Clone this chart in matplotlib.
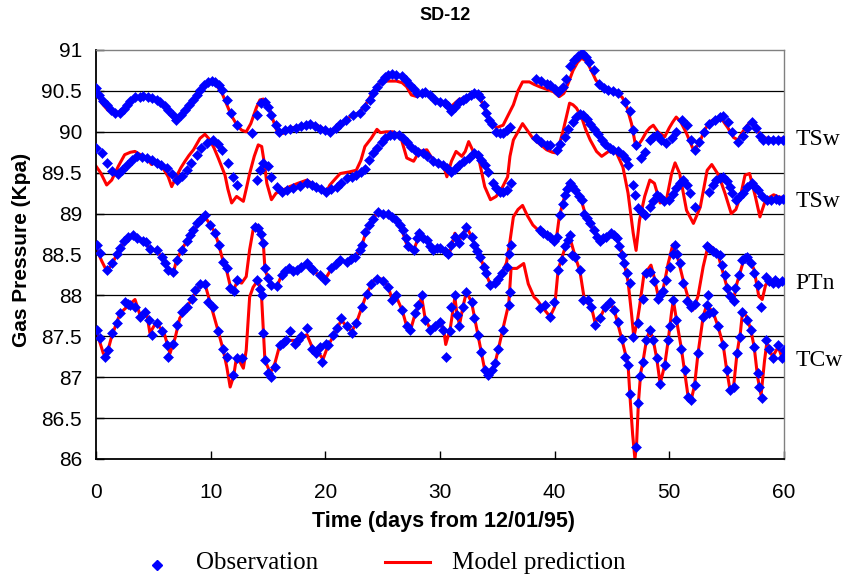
import matplotlib
matplotlib.use("Agg")
import matplotlib.pyplot as plt
from matplotlib.lines import Line2D

# ── Data (days, kPa) ──────────────────────────────────────────────────────────
# TSw (upper)
obs1_day = [0.0, 0.3, 0.6, 0.93, 1.3, 1.66, 2.1, 2.4, 2.67, 3.0, 3.4, 3.8, 4.1, 4.5, 4.9, 5.3, 5.6,
            6.0, 6.3, 6.7, 7.0, 7.4, 7.76, 8.1, 8.5, 8.8, 9.07, 9.4, 9.8, 10.1, 10.4, 10.7, 11.0,
            11.4, 11.8, 12.3, 13.6, 14.0, 14.4, 14.7, 15.0, 15.3, 15.7, 16.0, 16.5, 16.9, 17.4,
            17.9, 18.3, 18.7, 19.1, 19.5, 20.0, 20.4, 20.9, 21.3, 21.8, 22.4, 23.0, 23.5, 23.9,
            24.2, 24.5, 24.9, 25.2, 25.5, 25.8, 26.2, 26.65, 27.0, 27.4, 27.7, 28.0, 28.4, 28.7,
            29.1, 29.6, 30.0, 30.4, 30.7, 31.0, 31.3, 31.7, 32.0, 32.3, 32.7, 33.0, 33.3, 33.5,
            33.8, 34.0, 34.3, 34.5, 34.9, 35.2, 35.5, 35.8, 36.1, 38.4, 38.8, 39.3, 39.6, 40.0,
            40.3, 40.7, 41.0, 41.3, 41.7, 42.0, 42.35, 42.7, 43.0, 43.4, 43.9, 44.3, 44.67, 45.1,
            45.5, 46.1, 46.55, 46.85, 47.1, 47.57, 47.9, 48.3, 48.6, 48.9, 49.3, 49.75, 50.2,
            50.6, 51.1, 51.5, 51.9, 52.2, 52.6, 53.0, 53.5, 54.0, 54.4, 54.7, 55.1, 55.5, 56.0,
            56.4, 56.8, 57.2, 57.6, 57.9, 58.2, 58.6, 59.0, 59.5, 59.9]
obs1_val = [90.53, 90.45, 90.38, 90.33, 90.27, 90.23, 90.23, 90.28, 90.33, 90.38, 90.42, 90.43,
            90.44, 90.43, 90.41, 90.39, 90.37, 90.32, 90.27, 90.2, 90.15, 90.2, 90.27, 90.33,
            90.39, 90.45, 90.51, 90.57, 90.61, 90.62, 90.61, 90.57, 90.51, 90.39, 90.23, 90.08,
            89.98, 90.2, 90.35, 90.37, 90.3, 90.2, 90.08, 90.0, 90.02, 90.04, 90.05, 90.07,
            90.08, 90.1, 90.07, 90.04, 90.02, 90.0, 90.05, 90.1, 90.15, 90.2, 90.23, 90.3,
            90.39, 90.47, 90.55, 90.62, 90.67, 90.7, 90.71, 90.7, 90.68, 90.63, 90.57, 90.52,
            90.47, 90.48, 90.49, 90.45, 90.39, 90.37, 90.35, 90.31, 90.26, 90.3, 90.37, 90.39,
            90.41, 90.45, 90.47, 90.46, 90.43, 90.33, 90.23, 90.15, 90.1, 90.0, 89.98, 89.99,
            90.02, 90.06, 90.65, 90.62, 90.59, 90.57, 90.52, 90.49, 90.55, 90.65, 90.8, 90.88,
            90.93, 90.96, 90.92, 90.85, 90.76, 90.59, 90.53, 90.51, 90.5, 90.47, 90.37, 90.25,
            90.02, 89.84, 89.68, 89.75, 89.9, 89.94, 89.96, 89.9, 89.86, 89.92, 90.0, 90.15,
            90.08, 89.9, 89.78, 89.88, 90.0, 90.1, 90.15, 90.18, 90.19, 90.12, 90.0, 89.88,
            89.95, 90.05, 90.12, 90.05, 89.95, 89.9, 89.9, 89.9, 89.9, 89.9]
pred1_day = [0.0, 0.5, 1.0, 1.5, 2.0, 2.5, 3.0, 3.5, 4.0, 4.5, 5.0, 5.5, 6.0, 6.5, 6.9, 7.5, 8.0,
             8.5, 9.0, 9.5, 10.0, 10.5, 11.0, 11.5, 11.8, 12.3, 12.7, 13.1, 13.5, 13.7, 14.0,
             14.3, 14.6, 14.9, 15.2, 15.5, 15.75, 16.3, 16.8, 17.5, 18.0, 18.7, 19.3, 19.8,
             20.3, 20.8, 21.3, 21.8, 22.4, 23.0, 23.5, 24.0, 24.5, 25.0, 25.5, 26.2, 26.7, 27.1,
             27.5, 28.0, 28.5, 28.9, 29.4, 30.0, 30.5, 30.9, 31.3, 31.7, 32.3, 32.8, 33.2, 33.6,
             34.0, 34.5, 34.9, 35.5, 36.0, 36.4, 36.8, 37.2, 37.8, 38.2, 38.7, 39.3, 39.9, 40.4,
             40.8, 41.2, 41.6, 42.0, 42.35, 42.8, 43.2, 43.6, 44.2, 44.8, 45.4, 45.9, 46.3,
             46.7, 47.1, 47.6, 48.0, 48.3, 48.6, 49.0, 49.6, 50.0, 50.3, 50.6, 51.0, 51.5, 52.1,
             52.6, 53.0, 53.5, 54.0, 54.6, 55.1, 55.6, 56.0, 56.4, 56.8, 57.1, 57.6, 58.1, 58.6,
             59.2, 59.6, 60.0]
pred1_val = [90.5, 90.35, 90.27, 90.23, 90.24, 90.3, 90.38, 90.42, 90.43, 90.43, 90.4, 90.37,
             90.3, 90.2, 90.15, 90.22, 90.32, 90.4, 90.5, 90.58, 90.6, 90.57, 90.47, 90.3, 90.2,
             90.08, 90.02, 90.0, 90.1, 90.18, 90.3, 90.39, 90.4, 90.35, 90.25, 90.12, 90.02,
             89.98, 90.04, 90.06, 90.07, 90.1, 90.08, 90.04, 90.0, 90.04, 90.1, 90.15, 90.2,
             90.24, 90.33, 90.45, 90.56, 90.62, 90.62, 90.62, 90.6, 90.55, 90.45, 90.43, 90.47,
             90.48, 90.42, 90.37, 90.32, 90.3, 90.35, 90.4, 90.41, 90.45, 90.45, 90.38, 90.24,
             90.1, 90.05, 90.08, 90.22, 90.33, 90.5, 90.61, 90.61, 90.58, 90.55, 90.52, 90.49,
             90.43, 90.47, 90.6, 90.75, 90.85, 90.9, 90.86, 90.75, 90.63, 90.55, 90.51, 90.48,
             90.42, 90.3, 90.1, 89.8, 89.9, 90.0, 90.05, 90.08, 90.0, 89.94, 90.05, 90.12, 90.18,
             90.12, 89.98, 89.78, 89.85, 90.0, 90.12, 90.16, 90.15, 90.05, 89.93, 89.9, 90.0,
             90.08, 90.12, 90.03, 89.93, 89.92, 89.9, 89.92, 89.92]

# TSw (lower)
obs2_day = [0.0, 0.5, 0.93, 1.37, 1.95, 2.3, 2.67, 3.1, 3.55, 4.0, 4.42, 4.9, 5.3, 5.7, 6.16, 6.6,
            7.03, 7.5, 7.9, 8.3, 8.78, 9.2, 9.65, 10.2, 10.6, 10.95, 11.5, 11.97, 12.26, 14.0,
            14.3, 14.6, 15.0, 15.3, 15.75, 16.2, 16.7, 17.2, 17.8, 18.4, 18.8, 19.2, 19.6, 20.1,
            20.5, 20.98, 21.4, 21.85, 22.3, 22.7, 23.1, 23.45, 23.8, 24.2, 24.5, 24.9, 25.2,
            25.6, 26.0, 26.4, 26.8, 27.1, 27.5, 27.8, 28.1, 28.5, 28.9, 29.4, 29.8, 30.3, 30.6,
            31.0, 31.3, 31.7, 32.1, 32.5, 33.0, 33.3, 33.6, 33.9, 34.2, 34.6, 34.9, 35.2, 35.5,
            35.8, 36.2, 38.4, 38.8, 39.3, 39.6, 40.2, 40.5, 40.9, 41.2, 41.6, 41.9, 42.2, 42.5,
            42.8, 43.1, 43.4, 43.8, 44.1, 44.4, 44.8, 45.1, 45.5, 46.0, 46.2, 46.4, 46.85, 47.0,
            47.3, 47.6, 47.9, 48.3, 48.6, 48.9, 49.2, 49.5, 50.0, 50.3, 50.6, 50.9, 51.2, 51.5,
            51.8, 52.2, 53.5, 53.8, 54.1, 54.4, 54.7, 55.0, 55.25, 55.5, 55.8, 56.1, 56.4, 56.8,
            57.2, 57.5, 57.75, 58.1, 58.5, 58.9, 59.3, 59.6, 59.9]
obs2_val = [89.8, 89.74, 89.62, 89.52, 89.49, 89.53, 89.6, 89.66, 89.7, 89.69, 89.68, 89.65,
            89.62, 89.6, 89.56, 89.48, 89.41, 89.46, 89.53, 89.62, 89.72, 89.8, 89.86, 89.9,
            89.85, 89.78, 89.62, 89.45, 89.35, 89.41, 89.53, 89.62, 89.58, 89.45, 89.33, 89.27,
            89.29, 89.31, 89.34, 89.37, 89.35, 89.33, 89.3, 89.27, 89.3, 89.33, 89.38, 89.43,
            89.45, 89.47, 89.51, 89.55, 89.65, 89.74, 89.8, 89.88, 89.92, 89.96, 89.96, 89.96,
            89.92, 89.88, 89.82, 89.78, 89.75, 89.74, 89.7, 89.64, 89.62, 89.6, 89.56, 89.51,
            89.55, 89.6, 89.64, 89.68, 89.74, 89.72, 89.66, 89.6, 89.51, 89.37, 89.31, 89.27,
            89.27, 89.29, 89.37, 89.92, 89.88, 89.84, 89.84, 89.78, 89.85, 89.94, 90.03, 90.12,
            90.18, 90.22, 90.2, 90.16, 90.1, 90.04, 89.97, 89.9, 89.85, 89.8, 89.78, 89.76,
            89.72, 89.67, 89.6, 89.35, 89.23, 89.07, 89.02, 88.98, 89.08, 89.15, 89.23, 89.2,
            89.15, 89.17, 89.24, 89.31, 89.37, 89.41, 89.35, 89.25, 89.08, 89.27, 89.35, 89.41,
            89.44, 89.45, 89.4, 89.33, 89.25, 89.17, 89.2, 89.25, 89.32, 89.37, 89.33, 89.29,
            89.22, 89.17, 89.17, 89.18, 89.17, 89.18]
pred2_day = [0.0, 0.4, 0.93, 1.37, 1.95, 2.5, 3.0, 3.4, 4.1, 4.5, 4.85, 5.2, 5.6, 6.0, 6.3, 6.6,
             7.0, 7.4, 7.76, 8.1, 8.5, 9.07, 9.5, 9.94, 10.3, 10.66, 11.25, 11.5, 11.83, 12.26,
             12.85, 13.1, 13.4, 13.8, 14.15, 14.45, 14.7, 14.9, 15.3, 15.7, 16.04, 16.9, 17.6,
             18.4, 18.8, 19.2, 19.7, 20.1, 20.4, 20.9, 21.3, 22.1, 22.7, 23.1, 23.45, 24.0, 24.5,
             24.8, 25.3, 25.9, 26.3, 26.65, 26.9, 27.1, 27.7, 28.2, 28.85, 29.2, 29.55, 30.3,
             30.45, 30.6, 31.0, 31.4, 31.9, 32.2, 32.5, 32.9, 33.4, 33.9, 34.4, 34.9, 35.4, 35.9,
             36.1, 36.4, 36.8, 37.2, 37.6, 38.1, 38.7, 39.3, 39.8, 40.2, 40.75, 41.3, 41.6, 41.9,
             42.35, 42.7, 43.1, 43.65, 44.1, 44.7, 45.4, 45.95, 46.4, 46.85, 47.1, 47.4, 47.85,
             48.3, 48.7, 49.2, 49.75, 50.2, 50.5, 50.9, 51.5, 52.1, 52.7, 53.3, 53.7, 54.3,
             54.85, 55.4, 55.8, 56.2, 56.6, 57.0, 57.5, 57.9, 58.4, 59.1, 59.6, 60.0]
pred2_val = [89.58, 89.5, 89.35, 89.41, 89.58, 89.72, 89.75, 89.76, 89.7, 89.66, 89.6, 89.63,
             89.6, 89.52, 89.45, 89.33, 89.45, 89.56, 89.64, 89.71, 89.78, 89.92, 89.97, 89.9,
             89.8, 89.68, 89.47, 89.3, 89.13, 89.21, 89.15, 89.3, 89.49, 89.7, 89.84, 89.82,
             89.6, 89.37, 89.17, 89.25, 89.27, 89.33, 89.37, 89.41, 89.37, 89.33, 89.28, 89.27,
             89.35, 89.43, 89.49, 89.51, 89.53, 89.65, 89.82, 89.92, 90.03, 89.99, 90.0, 90.0,
             89.97, 89.9, 89.78, 89.68, 89.64, 89.76, 89.78, 89.7, 89.64, 89.57, 89.52, 89.45,
             89.64, 89.76, 89.7, 89.76, 89.88, 89.76, 89.66, 89.33, 89.17, 89.21, 89.31, 89.45,
             89.7, 89.9, 90.0, 90.1, 90.02, 89.92, 89.85, 89.78, 89.75, 89.74, 90.02, 90.35,
             90.33, 90.29, 90.18, 90.03, 89.9, 89.76, 89.7, 89.76, 89.74, 89.57, 89.25, 88.76,
             88.55, 88.92, 89.21, 89.41, 89.37, 89.13, 89.17, 89.49, 89.62, 89.49, 89.04, 88.88,
             89.08, 89.53, 89.6, 89.47, 89.25, 89.0, 89.05, 89.21, 89.47, 89.49, 89.21, 88.96,
             89.17, 89.23, 89.2, 89.2]

# PTn
obs3_day = [0.06, 0.35, 0.93, 1.37, 1.8, 2.1, 2.4, 2.8, 3.25, 3.6, 4.1, 4.4, 4.7, 5.3, 5.73, 6.0,
            6.3, 6.74, 7.03, 7.47, 7.9, 8.2, 8.5, 8.8, 9.2, 9.5, 9.94, 10.4, 10.7, 11.1, 11.4,
            11.7, 12.0, 12.3, 13.9, 14.15, 14.4, 14.6, 14.73, 15.0, 15.3, 15.75, 16.2, 16.5,
            16.8, 17.2, 17.5, 17.9, 18.4, 18.7, 18.95, 19.5, 20.0, 20.5, 20.9, 21.3, 21.85, 22.2,
            22.6, 23.0, 23.2, 23.45, 23.8, 24.2, 24.6, 25.0, 25.5, 25.8, 26.2, 26.5, 26.8, 27.0,
            27.2, 27.7, 28.0, 28.2, 28.5, 28.85, 29.1, 29.4, 29.7, 30.0, 30.4, 30.7, 31.0, 31.3,
            31.7, 32.0, 32.3, 32.75, 33.0, 33.2, 33.5, 33.8, 34.0, 34.4, 34.8, 35.1, 35.4, 35.8,
            36.0, 36.2, 38.7, 39.0, 39.3, 39.6, 39.9, 40.2, 40.45, 40.7, 40.9, 41.1, 41.3, 41.5,
            41.8, 42.1, 42.35, 42.6, 42.85, 43.1, 43.4, 43.65, 43.95, 44.2, 44.5, 44.95, 45.2,
            45.4, 45.6, 45.85, 46.05, 46.3, 46.55, 46.85, 47.3, 47.7, 48.0, 48.3, 48.7, 49.0,
            49.2, 49.45, 49.75, 50.05, 50.3, 50.5, 50.7, 50.9, 51.2, 51.5, 51.9, 52.2, 53.25,
            53.5, 53.8, 54.1, 54.4, 54.55, 54.85, 55.0, 55.3, 55.6, 55.75, 56.05, 56.35, 56.6,
            56.8, 57.1, 57.4, 57.7, 58.0, 58.4, 58.7, 59.0, 59.2, 59.5, 59.8]
obs3_val = [88.62, 88.52, 88.31, 88.39, 88.5, 88.58, 88.66, 88.72, 88.74, 88.7, 88.67, 88.65,
            88.57, 88.56, 88.47, 88.4, 88.31, 88.29, 88.43, 88.56, 88.66, 88.74, 88.8, 88.88,
            88.94, 88.98, 88.86, 88.76, 88.62, 88.41, 88.33, 88.09, 88.05, 88.19, 88.84, 88.82,
            88.75, 88.64, 88.33, 88.21, 88.13, 88.11, 88.25, 88.3, 88.33, 88.3, 88.31, 88.35,
            88.39, 88.35, 88.31, 88.25, 88.19, 88.33, 88.38, 88.43, 88.41, 88.44, 88.47, 88.56,
            88.62, 88.78, 88.86, 88.94, 89.02, 89.0, 89.0, 88.96, 88.92, 88.86, 88.8, 88.7,
            88.6, 88.56, 88.7, 88.76, 88.7, 88.68, 88.6, 88.56, 88.58, 88.58, 88.54, 88.5,
            88.62, 88.72, 88.64, 88.74, 88.84, 88.72, 88.62, 88.54, 88.47, 88.35, 88.27, 88.13,
            88.15, 88.2, 88.27, 88.35, 88.5, 88.62, 88.8, 88.76, 88.74, 88.72, 88.67, 88.72,
            88.98, 89.12, 89.23, 89.3, 89.37, 89.34, 89.29, 89.22, 89.17, 89.0, 88.95, 88.88,
            88.8, 88.72, 88.66, 88.7, 88.72, 88.76, 88.74, 88.7, 88.6, 88.49, 88.4, 88.27,
            88.15, 87.49, 87.66, 87.96, 88.27, 88.29, 88.17, 87.96, 88.0, 88.05, 88.19, 88.35,
            88.5, 88.62, 88.5, 88.39, 88.15, 87.93, 87.86, 87.9, 88.6, 88.58, 88.54, 88.52,
            88.49, 88.37, 88.25, 88.09, 87.99, 87.93, 88.09, 88.25, 88.43, 88.46, 88.47, 88.39,
            88.27, 88.13, 87.86, 88.23, 88.17, 88.15, 88.19, 88.15, 88.17]
pred3_day = [0.0, 0.5, 0.93, 1.4, 1.8, 2.4, 2.9, 3.3, 3.8, 4.3, 4.7, 5.3, 5.73, 6.3, 6.74, 7.0,
             7.47, 7.9, 8.5, 9.0, 9.5, 9.9, 10.4, 10.7, 11.1, 11.4, 11.7, 12.0, 12.3, 12.7, 13.1,
             13.4, 13.7, 14.0, 14.3, 14.6, 14.73, 15.0, 15.3, 15.75, 16.2, 16.8, 17.5, 18.4,
             18.95, 19.5, 20.0, 20.5, 21.3, 21.85, 22.6, 23.2, 23.6, 24.2, 24.6, 25.0, 25.5,
             26.0, 26.6, 27.0, 27.3, 27.7, 28.2, 28.6, 29.0, 29.4, 30.0, 30.5, 30.8, 31.3, 31.6,
             32.0, 32.3, 32.75, 33.1, 33.5, 34.0, 34.4, 34.8, 35.4, 35.8, 36.1, 36.4, 36.8, 37.2,
             37.6, 38.1, 38.7, 39.6, 40.1, 40.4, 40.75, 41.1, 41.3, 41.8, 42.35, 42.7, 43.1,
             43.65, 44.0, 44.5, 44.95, 45.4, 45.8, 46.1, 46.4, 46.7, 46.9, 47.2, 47.4, 47.8,
             48.1, 48.4, 48.7, 49.0, 49.45, 49.9, 50.3, 50.75, 51.2, 51.6, 52.05, 52.5, 52.95,
             53.4, 53.8, 54.3, 54.7, 55.2, 55.6, 55.9, 56.4, 56.9, 57.4, 57.8, 58.1, 58.4, 59.0,
             59.5, 60.0]
pred3_val = [88.58, 88.42, 88.3, 88.38, 88.5, 88.64, 88.72, 88.74, 88.68, 88.66, 88.56, 88.54,
             88.47, 88.31, 88.27, 88.42, 88.56, 88.66, 88.78, 88.9, 88.96, 88.88, 88.76, 88.62,
             88.41, 88.3, 88.12, 88.06, 88.17, 88.15, 88.23, 88.56, 88.8, 88.86, 88.78, 88.62,
             88.33, 88.2, 88.12, 88.1, 88.25, 88.32, 88.3, 88.38, 88.3, 88.24, 88.2, 88.32,
             88.43, 88.41, 88.47, 88.62, 88.8, 88.94, 89.02, 88.98, 89.0, 88.94, 88.84, 88.66,
             88.56, 88.55, 88.74, 88.7, 88.64, 88.56, 88.58, 88.5, 88.5, 88.76, 88.66, 88.74,
             88.84, 88.72, 88.58, 88.48, 88.27, 88.13, 88.15, 88.27, 88.4, 88.66, 88.96, 89.05,
             89.1, 88.98, 88.86, 88.78, 88.72, 88.64, 88.96, 89.15, 89.33, 89.35, 89.28, 89.15,
             88.98, 88.88, 88.72, 88.68, 88.72, 88.76, 88.7, 88.55, 88.37, 88.17, 87.78, 87.49,
             87.68, 87.86, 88.27, 88.31, 88.37, 88.21, 88.01, 88.07, 88.39, 88.62, 88.45, 88.19,
             87.99, 87.82, 87.99, 88.35, 88.62, 88.58, 88.47, 88.27, 88.01, 87.95, 88.15, 88.39,
             88.49, 88.31, 87.99, 87.95, 88.13, 88.19, 88.16, 88.17]

# TCw
obs4_day = [0.06, 0.35, 0.78, 1.08, 1.37, 1.8, 2.1, 2.53, 2.8, 2.96, 3.4, 3.84, 4.27, 4.6, 4.85,
            5.3, 5.73, 6.16, 6.3, 6.74, 7.03, 7.47, 7.9, 8.34, 8.63, 9.07, 9.5, 9.8, 10.2, 10.66,
            11.1, 11.4, 11.97, 12.26, 12.7, 14.0, 14.3, 14.44, 14.6, 14.73, 15.0, 15.3, 15.6,
            16.04, 16.3, 16.6, 16.9, 17.35, 17.6, 17.9, 18.4, 18.8, 19.2, 19.5, 19.7, 20.1,
            20.25, 20.7, 21.0, 21.4, 21.85, 22.3, 22.7, 23.2, 23.6, 24.0, 24.5, 25.0, 25.5,
            25.8, 26.2, 26.7, 27.1, 27.4, 27.8, 28.1, 28.4, 28.7, 29.1, 29.6, 30.0, 30.3, 30.5,
            30.9, 31.0, 31.3, 31.45, 31.7, 32.0, 32.3, 32.75, 33.0, 33.3, 33.6, 33.9, 34.2, 34.5,
            34.8, 35.1, 35.5, 36.0, 36.1, 38.7, 39.2, 39.6, 39.9, 40.3, 40.6, 40.9, 41.2, 41.3,
            41.5, 41.8, 42.2, 42.5, 42.9, 43.2, 43.5, 43.95, 44.4, 44.8, 45.2, 45.5, 45.85,
            46.1, 46.4, 46.55, 47.1, 47.3, 47.4, 47.7, 48.0, 48.3, 48.6, 48.9, 49.2, 49.6, 49.9,
            50.05, 50.35, 50.6, 51.05, 51.35, 51.6, 51.9, 52.2, 52.5, 52.95, 53.25, 53.4, 53.5,
            53.8, 54.25, 54.7, 55.0, 55.3, 55.6, 55.9, 56.2, 56.35, 56.8, 57.1, 57.4, 57.7,
            57.85, 58.1, 58.4, 58.7, 59.0, 59.5, 59.8, 60.0]
obs4_val = [87.58, 87.48, 87.25, 87.33, 87.54, 87.66, 87.78, 87.92, 87.9, 87.88, 87.86, 87.74,
            87.8, 87.7, 87.52, 87.66, 87.56, 87.39, 87.25, 87.41, 87.64, 87.8, 87.86, 87.96,
            88.06, 88.14, 88.14, 87.92, 87.86, 87.56, 87.35, 87.25, 87.03, 87.23, 87.23, 88.19,
            88.08, 88.0, 87.54, 87.21, 87.05, 87.0, 87.13, 87.39, 87.42, 87.45, 87.56, 87.41,
            87.46, 87.5, 87.6, 87.35, 87.29, 87.37, 87.19, 87.41, 87.39, 87.52, 87.6, 87.72,
            87.62, 87.54, 87.66, 87.86, 88.02, 88.14, 88.2, 88.18, 88.1, 87.94, 88.0, 87.82,
            87.62, 87.58, 87.78, 87.88, 88.0, 87.7, 87.58, 87.62, 87.68, 87.58, 87.25, 87.56,
            87.86, 88.0, 87.76, 87.62, 87.86, 88.04, 87.92, 87.72, 87.52, 87.31, 87.09, 87.03,
            87.09, 87.17, 87.35, 87.58, 87.88, 88.04, 87.84, 87.88, 87.74, 87.92, 88.31, 88.43,
            88.6, 88.68, 88.74, 88.49, 88.47, 88.31, 87.94, 87.94, 87.86, 87.64, 87.72, 87.86,
            87.92, 87.82, 87.68, 87.47, 87.25, 87.15, 86.8, 86.15, 86.68, 87.01, 87.19, 87.45,
            87.58, 87.45, 87.23, 86.92, 87.15, 87.45, 87.62, 87.94, 87.7, 87.35, 87.09, 86.76,
            86.72, 86.9, 87.29, 87.74, 87.88, 88.01, 87.78, 87.8, 87.62, 87.39, 87.09, 86.84,
            86.88, 87.29, 87.49, 87.8, 87.7, 87.58, 87.37, 87.05, 86.88, 86.74, 87.45, 87.35,
            87.23, 87.39, 87.23, 87.33]
pred4_day = [0.0, 0.64, 0.93, 1.37, 2.1, 2.7, 3.4, 3.84, 4.4, 4.7, 5.2, 5.9, 6.45, 6.9, 7.3, 8.2,
             9.07, 9.5, 9.94, 10.66, 11.1, 11.4, 11.7, 12.0, 12.26, 12.5, 12.85, 13.1, 13.4,
             13.7, 14.15, 14.44, 14.73, 15.2, 15.6, 16.04, 16.9, 17.5, 18.4, 18.9, 19.5, 19.8,
             20.25, 20.7, 21.4, 21.85, 22.3, 22.7, 23.2, 23.6, 24.3, 25.0, 25.5, 25.8, 26.2,
             26.7, 27.1, 27.4, 27.8, 28.4, 28.7, 29.1, 29.6, 30.0, 30.3, 30.5, 30.9, 31.3, 31.45,
             31.7, 32.0, 32.3, 32.75, 33.0, 33.3, 33.6, 33.9, 34.2, 34.5, 34.8, 35.1, 35.5, 36.0,
             36.2, 36.7, 37.3, 37.7, 38.2, 38.5, 38.9, 39.6, 40.0, 40.3, 40.9, 41.3, 41.8, 42.2,
             42.6, 43.2, 43.5, 43.95, 44.4, 44.8, 45.2, 45.85, 46.4, 46.6, 46.8, 47.0, 47.15,
             47.3, 47.5, 47.7, 48.0, 48.3, 48.6, 48.9, 49.2, 49.6, 49.9, 50.2, 50.35, 50.6,
             51.05, 51.6, 51.9, 52.2, 52.5, 52.95, 53.25, 53.8, 54.25, 54.7, 55.0, 55.3, 55.6,
             55.9, 56.2, 56.4, 56.8, 57.1, 57.4, 57.7, 58.0, 58.3, 58.5, 59.0, 59.5, 59.8, 60.0]
pred4_val = [87.58, 87.29, 87.27, 87.5, 87.78, 87.86, 87.95, 87.76, 87.8, 87.54, 87.66, 87.56,
             87.29, 87.48, 87.72, 87.92, 88.13, 88.14, 87.92, 87.56, 87.33, 87.13, 86.88, 87.01,
             87.25, 87.2, 87.11, 87.33, 87.98, 88.1, 88.19, 87.98, 87.21, 87.05, 87.17, 87.4,
             87.45, 87.45, 87.52, 87.35, 87.28, 87.22, 87.39, 87.5, 87.7, 87.62, 87.56, 87.66,
             87.86, 88.02, 88.2, 88.2, 88.1, 87.96, 87.98, 87.82, 87.62, 87.56, 87.76, 87.98,
             87.72, 87.6, 87.62, 87.66, 87.6, 87.4, 87.6, 87.98, 87.8, 87.64, 87.86, 88.04,
             87.92, 87.74, 87.52, 87.31, 87.09, 87.03, 87.08, 87.17, 87.35, 87.6, 87.9, 88.33,
             88.33, 88.39, 88.14, 87.98, 87.94, 87.86, 87.74, 87.86, 88.31, 88.58, 88.72, 88.47,
             88.3, 87.94, 87.86, 87.68, 87.72, 87.86, 87.92, 87.82, 87.47, 87.15, 86.7, 86.3,
             86.0, 86.2, 86.68, 87.05, 87.19, 87.45, 87.58, 87.45, 87.23, 86.92, 87.15, 87.45,
             87.8, 87.94, 87.72, 87.35, 86.8, 86.72, 86.9, 87.29, 87.74, 87.88, 87.8, 87.62,
             87.39, 87.09, 86.84, 86.88, 87.29, 87.55, 87.82, 87.72, 87.58, 87.37, 87.0, 86.78,
             87.2, 87.42, 87.25, 87.37, 87.25, 87.32]

obs_series  = [(obs1_day, obs1_val), (obs2_day, obs2_val), (obs3_day, obs3_val), (obs4_day, obs4_val)]
pred_series = [(pred1_day, pred1_val), (pred2_day, pred2_val), (pred3_day, pred3_val), (pred4_day, pred4_val)]
unit_labels = ["TSw", "TSw", "PTn", "TCw"]
label_y     = [89.9, 89.15, 88.15, 87.2]

x_ticks = [0, 10, 20, 30, 40, 50, 60]
y_ticks = [86, 86.5, 87, 87.5, 88, 88.5, 89, 89.5, 90, 90.5, 91]

RED  = "#FF0000"
BLUE = "#0000FF"
SANS  = "Liberation Sans"
SERIF = "Liberation Serif"

# ── Figure ────────────────────────────────────────────────────────────────────
W, H = 849, 581
fig = plt.figure(figsize=(W / 100, H / 100), dpi=100)
ax = fig.add_axes([96 / W, 1 - 459 / H, (784 - 96) / W, (459 - 50) / H])

for y in y_ticks[1:-1]:
    ax.axhline(y, color="black", lw=0.9, zorder=1)

for (pd_, pv), (od, ov) in zip(pred_series, obs_series):
    ax.plot(pd_, pv, color=RED, lw=2.2, zorder=2, solid_joinstyle="round")
    ax.plot(od, ov, ls="none", marker="D", ms=4.8, mfc=BLUE, mec=BLUE, mew=0.4, zorder=3)

for name, y in zip(unit_labels, label_y):
    ax.text(61.0, y, name, fontsize=17, family=SERIF, va="center", ha="left", clip_on=False)

ax.set_xlim(0, 60)
ax.set_ylim(86, 91)
ax.set_xticks(x_ticks)
ax.set_yticks(y_ticks)
ax.set_yticklabels(["%g" % v for v in y_ticks])
ax.tick_params(direction="in", length=6, width=1, labelsize=15)
ax.tick_params(axis="x", pad=17)
ax.tick_params(axis="y", pad=10)
for lab in ax.get_xticklabels() + ax.get_yticklabels():
    lab.set_family(SANS)

for side in ("left", "bottom"):
    ax.spines[side].set_color("black")
    ax.spines[side].set_linewidth(1.3)
for side in ("top", "right"):
    ax.spines[side].set_color("#808080")
    ax.spines[side].set_linewidth(1.0)

fig.text(445 / W, 1 - 16 / H, "SD-12", ha="center", va="center",
         fontsize=13, fontweight="bold", family=SANS)
fig.text(22 / W, 1 - 250 / H, "Gas Pressure (Kpa)", ha="center", va="center",
         rotation=90, fontsize=15, fontweight="bold", family=SANS)
fig.text(443 / W, 1 - 522 / H, "Time (days from 12/01/95)", ha="center", va="center",
         fontsize=15.5, fontweight="bold", family=SANS)

# legend drawn by hand, below the axis title
fig.add_artist(Line2D([157 / W], [1 - 565 / H], ls="none", marker="D", ms=4.8,
                      mfc=BLUE, mec=BLUE, transform=fig.transFigure))
fig.text(196 / W, 1 - 563 / H, "Observation", ha="left", va="center", fontsize=18, family=SERIF)
fig.add_artist(Line2D([385 / W, 430 / W], [1 - 562 / H, 1 - 562 / H], color=RED, lw=2.2,
                      transform=fig.transFigure))
fig.text(452 / W, 1 - 563 / H, "Model prediction", ha="left", va="center", fontsize=18, family=SERIF)

fig.savefig("out.png", dpi=100)
